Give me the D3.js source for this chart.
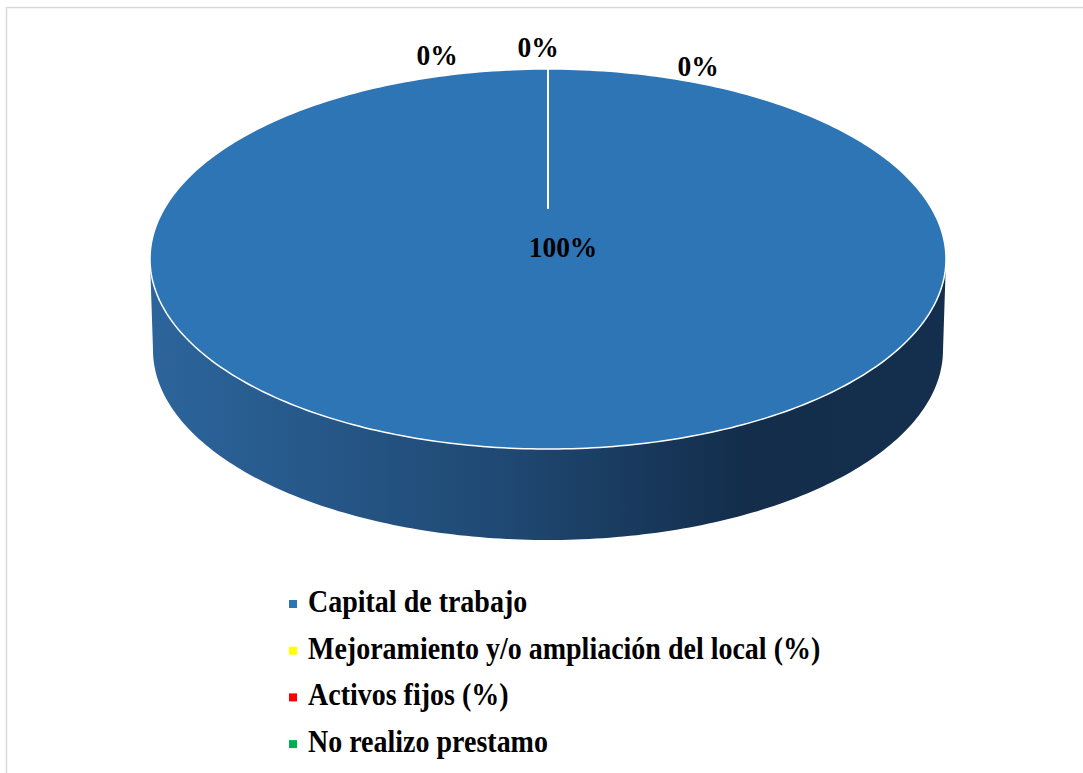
<!DOCTYPE html>
<html>
<head>
<meta charset="utf-8">
<script src="https://cdn.jsdelivr.net/npm/d3@7"></script>
<style>
  body { margin: 0; background: #fff; }
  svg { display: block; }
  text { font-family: "Liberation Serif", "Times New Roman", serif; font-weight: bold; fill: #000; }
</style>
</head>
<body>
<svg width="1083" height="773"></svg>
<script>
// chart data
const categories = ["Capital de trabajo", "Mejoramiento y/o ampliación del local (%)", "Activos fijos (%)", "No realizo prestamo"];
const values = [100, 0, 0, 0];
const colors = ["#2e75b6", "#ffff00", "#ff0000", "#00b050"];

const svg = d3.select("svg");

// outer frame (only top and left show)
svg.append("path")
    .attr("d", "M6.5,773 L6.5,7.5 L1083,7.5")
    .attr("fill", "none")
    .attr("stroke", "#d9d9d9")
    .attr("stroke-width", 1.5);

// ellipse geometry of the tilted pie
const cx = 548, cy = 259, rx = 398, ry = 190;
const apexY = 208;     // projected centre of the disc
const depth = 91, rxBottom = 395;
const stretch = 1.1;   // text in the source is a bit taller than normal

const edge = (a, r, yc) => [cx + r * Math.sin(a), yc - ry * Math.cos(a)];

const defs = svg.append("defs");
const grad = defs.append("linearGradient")
    .attr("id", "side")
    .attr("x1", "0%").attr("x2", "100%")
    .attr("y1", "0%").attr("y2", "0%");
[["0%", "#2c659c"], ["45%", "#1f4872"], ["75%", "#132d4b"], ["100%", "#142f4d"]]
    .forEach(s => grad.append("stop").attr("offset", s[0]).attr("stop-color", s[1]));

// side wall
const line = d3.line();
const sidePts = [];
d3.range(0, 181).forEach(i => {
    const a = Math.PI / 2 + i * Math.PI / 180;
    sidePts.push(edge(a, rx, cy));
});
d3.range(0, 181).forEach(i => {
    const a = 3 * Math.PI / 2 - i * Math.PI / 180;
    sidePts.push(edge(a, rxBottom, cy + depth));
});
svg.append("path")
    .attr("d", line(sidePts) + "Z")
    .attr("fill", "url(#side)");

// top face slices from d3.pie
const pie = d3.pie().sort(null).value(d => d);
const arcs = pie(values);

const slicePath = (d) => {
    const pts = [[cx, apexY]];
    const n = Math.max(1, Math.ceil((d.endAngle - d.startAngle) / (Math.PI / 180)));
    for (let i = 0; i <= n; i++) {
        const a = d.startAngle + (d.endAngle - d.startAngle) * i / n;
        pts.push(edge(a, rx, cy));
    }
    return line(pts) + "Z";
};

svg.append("g").selectAll("path")
    .data(arcs)
    .join("path")
    .attr("d", slicePath)
    .attr("fill", (d, i) => colors[i])
    .attr("stroke", "#fff")
    .attr("stroke-width", 1.5)
    .attr("stroke-linejoin", "round");

// data labels
const labelOffset = [[15, 49], [-111, -143], [-10, -151], [150, -132]];
svg.append("g").selectAll("text")
    .data(arcs)
    .join("text")
    .attr("transform", (d, i) => `translate(${cx + labelOffset[i][0]},${apexY + labelOffset[i][1]}) scale(1,${stretch})`)
    .attr("text-anchor", "middle")
    .attr("font-size", 27.5)
    .text(d => Math.round(100 * d.value / d3.sum(values)) + "%");

// legend
const legend = svg.append("g").attr("transform", "translate(289,612)");
const row = legend.selectAll("g")
    .data(categories)
    .join("g")
    .attr("transform", (d, i) => `translate(0,${i * 46.7})`);
row.append("rect")
    .attr("x", 0).attr("y", -12)
    .attr("width", 8).attr("height", 8)
    .attr("fill", (d, i) => colors[i]);
row.append("text")
    .attr("transform", `translate(19,0) scale(1,${stretch})`)
    .attr("font-size", 28)
    .text(d => d);
</script>
</body>
</html>
